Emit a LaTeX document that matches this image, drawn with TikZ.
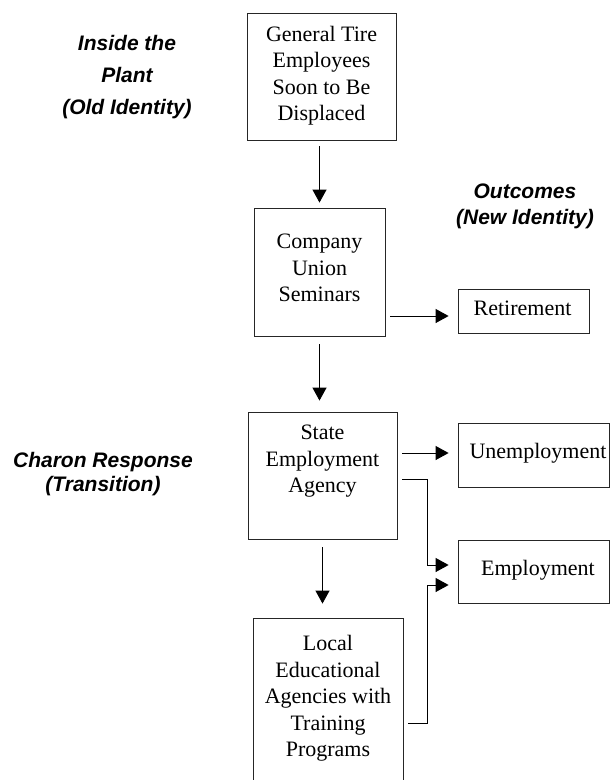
\documentclass[tikz,border=0pt]{standalone}
\usepackage{fontspec}
\setmainfont{Liberation Serif}
\newfontfamily\lblfont{Liberation Sans}
\usetikzlibrary{arrows.meta,calc}
\begin{document}
\begin{tikzpicture}[x=1pt,y=-1pt,
  box/.style={draw=black!85,line width=0.8pt,inner sep=0pt},
  btext/.style={inner sep=0pt,align=center,font=\fontsize{22}{26.5}\selectfont},
  side/.style={inner sep=0pt,align=center,font=\lblfont\bfseries\itshape\fontsize{21}{#1}\selectfont},
  arr/.style={line width=1pt,-{Triangle[length=13pt,width=14pt]}}]
\useasboundingbox (0,0) rectangle (610,780);
\clip (0,0) rectangle (610,780);
% boxes
\node[box,minimum width=149pt,minimum height=127pt] (b1) at (321.5,76.5) {};
\node[box,minimum width=131pt,minimum height=128pt] (b2) at (319.5,272) {};
\node[box,minimum width=149pt,minimum height=127pt] (b3) at (322.5,475.5) {};
\node[box,minimum width=150pt,minimum height=170pt] (b4) at (328,703) {};
\node[box,minimum width=131pt,minimum height=44pt] (ret) at (523.5,311) {};
\node[box,minimum width=151pt,minimum height=64pt] (un) at (533.5,455) {};
\node[box,minimum width=151pt,minimum height=63pt] (em) at (533.5,571.5) {};
% box texts
\node[btext] (t1) at (321.5,75.5) {General Tire\\Employees\\Soon to Be\\Displaced};
\node[btext] (t2) at (319.5,268) {Company\\Union\\Seminars};
\node[btext] (t3) at (322.5,461.5) {State\\Employment\\Agency};
\node[btext] (t4) at (328,698.5) {Local\\Educational\\Agencies with\\Training\\Programs};
\node[btext,anchor=base] (tr) at (522.5,315) {Retirement};
\node[btext,anchor=base] (tu) at (538,458) {Unemployment};
\node[btext,anchor=base] (te) at (538,575) {Employment};
% side labels
\node[side=31.7] (l1) at (127,77) {Inside the\\Plant\\(Old Identity)};
\node[side=26] (l2) at (525,206.5) {Outcomes\\(New Identity)};
\node[side=24] (l3) at (103,474.5) {Charon Response\\(Transition)};
% arrows
\draw[arr,shorten <=6pt,shorten >=5pt] (b2.north |- b1.south) -- (b2.north);
\draw[arr,shorten <=8pt,shorten >=11pt] (b2.south) -- (b2.south |- b3.north);
\draw[arr,shorten <=8pt,shorten >=14pt] (b3.south) -- (b3.south |- b4.north);
\draw[arr] ($(b2.east |- ret.west)+(5,5)$) -- ($(ret.west)+(-9,5)$);
\draw[arr] ($(b3.east |- un.west)+(5,-2)$) -- ($(un.west)+(-9,-2)$);
\coordinate (e1) at ($(em.west)+(-9,-6.5)$);
\coordinate (e2) at ($(em.west)+(-9,13.5)$);
\coordinate (s1) at ($(b3.east)+(5,3.5)$);
\coordinate (s2) at ($(b4.east |- 0,723)+(5,0)$);
\draw[arr] (s1) -- (s1 -| 427,0) -- (427,0 |- e1) -- (e1);
\draw[arr] (s2) -- (s2 -| 427,0) -- (427,0 |- e2) -- (e2);
\end{tikzpicture}
\end{document}
